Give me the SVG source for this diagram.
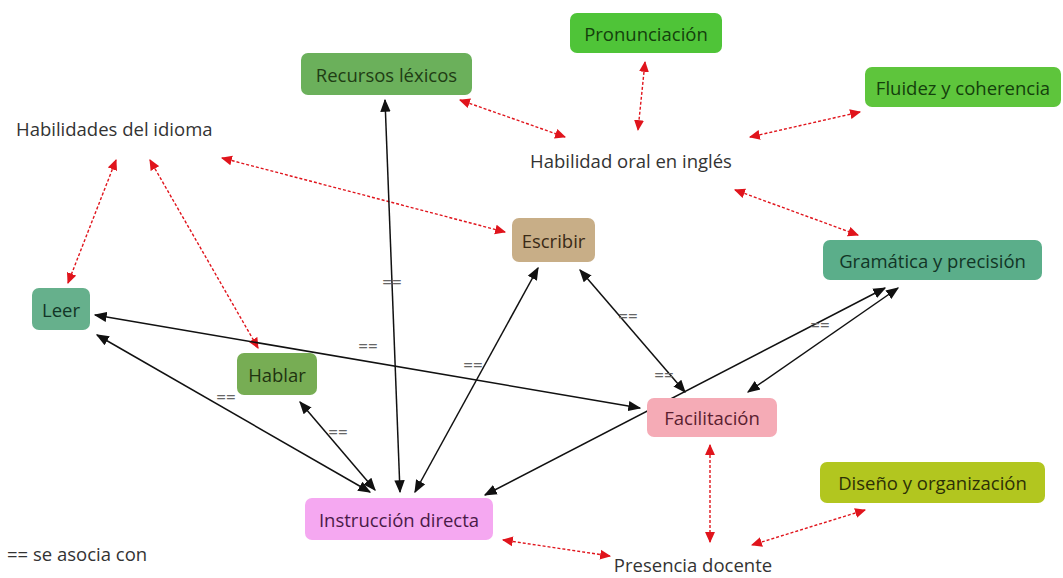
<svg xmlns="http://www.w3.org/2000/svg" width="1063" height="578" viewBox="0 0 1063 578">
  <defs>
    <marker id="arrRed" viewBox="0 0 10 10" refX="9" refY="5" markerWidth="11" markerHeight="11" orient="auto-start-reverse" markerUnits="userSpaceOnUse">
      <path d="M0,0.5 L10,5 L0,9.5 z" fill="#e0141c"/>
    </marker>
    <marker id="arrBlk" viewBox="0 0 10 10" refX="9" refY="5" markerWidth="13" markerHeight="13" orient="auto-start-reverse" markerUnits="userSpaceOnUse">
      <path d="M0,1 L10,5 L0,9 z" fill="#111"/>
    </marker>
  </defs>
  <style>
    text { font-family: "Open Sans", "Noto Sans", sans-serif; font-size: 18.5px; }
    .box { stroke: none; }
    .lbl { text-anchor: middle; dominant-baseline: central; }
    .plain { fill: #333; }
    .rel { stroke: #e0141c; stroke-width: 1.4; stroke-dasharray: 3 2; fill: none; marker-start: url(#arrRed); marker-end: url(#arrRed); }
    .assoc { stroke: #111; stroke-width: 1.5; fill: none; marker-start: url(#arrBlk); marker-end: url(#arrBlk); }
    .eq { fill: #666; font-size: 17px; text-anchor: middle; dominant-baseline: central; }
  </style>
  <rect width="1063" height="578" fill="#fff"/>

  <g id="connectors">
    <!-- dashed relations -->
    <line class="rel" x1="460" y1="100" x2="565" y2="137"/>
    <line class="rel" x1="645" y1="62" x2="638" y2="130"/>
    <line class="rel" x1="860" y1="112" x2="750" y2="137"/>
    <line class="rel" x1="735" y1="190" x2="858" y2="235"/>
    <line class="rel" x1="222" y1="158" x2="505" y2="232"/>
    <line class="rel" x1="116" y1="160" x2="68" y2="283"/>
    <line class="rel" x1="150" y1="160" x2="258" y2="348"/>
    <line class="rel" x1="710" y1="445" x2="710" y2="542"/>
    <line class="rel" x1="503" y1="540" x2="610" y2="556"/>
    <line class="rel" x1="865" y1="510" x2="752" y2="545"/>
    <!-- associations -->
    <line class="assoc" x1="385" y1="100" x2="400" y2="492"/>
    <line class="assoc" x1="538" y1="268" x2="415" y2="492"/>
    <line class="assoc" x1="97" y1="335" x2="370" y2="492"/>
    <line class="assoc" x1="300" y1="402" x2="375" y2="490"/>
    <line class="assoc" x1="95" y1="315" x2="640" y2="408"/>
    <line class="assoc" x1="580" y1="270" x2="685" y2="392"/>
    <line class="assoc" x1="885" y1="288" x2="485" y2="495"/>
    <line class="assoc" x1="898" y1="288" x2="748" y2="392"/>
    <text class="eq" x="392" y="281">==</text>
    <text class="eq" x="473" y="364">==</text>
    <text class="eq" x="226" y="396">==</text>
    <text class="eq" x="338" y="431">==</text>
    <text class="eq" x="368" y="345">==</text>
    <text class="eq" x="628" y="315">==</text>
    <text class="eq" x="664" y="374">==</text>
    <text class="eq" x="820" y="324">==</text>
  </g>

  <g id="recursos">
    <rect class="box" x="301" y="53" width="171" height="42" rx="7" fill="#6bb05b"/>
    <text class="lbl" x="386.5" y="74" fill="#1f3d14">Recursos léxicos</text>
  </g>
  <g id="pronunciacion">
    <rect class="box" x="570" y="13" width="152" height="40" rx="7" fill="#4fc438"/>
    <text class="lbl" x="646" y="33" fill="#14400c">Pronunciación</text>
  </g>
  <g id="fluidez">
    <rect class="box" x="865" y="67" width="196" height="40" rx="7" fill="#5ec53c"/>
    <text class="lbl" x="963" y="87" fill="#14400c">Fluidez y coherencia</text>
  </g>
  <g id="habilidades-idioma">
    <text class="plain" x="16" y="136">Habilidades del idioma</text>
  </g>
  <g id="habilidad-oral">
    <text class="plain lbl" x="631" y="160">Habilidad oral en inglés</text>
  </g>
  <g id="escribir">
    <rect class="box" x="512" y="218" width="83" height="44" rx="7" fill="#c8ae87"/>
    <text class="lbl" x="553.5" y="240" fill="#3a2a16">Escribir</text>
  </g>
  <g id="gramatica">
    <rect class="box" x="823" y="240" width="219" height="40" rx="7" fill="#5bae8a"/>
    <text class="lbl" x="932.5" y="260" fill="#123526">Gramática y precisión</text>
  </g>
  <g id="leer">
    <rect class="box" x="32" y="288" width="58" height="42" rx="7" fill="#66b08c"/>
    <text class="lbl" x="61" y="309" fill="#123526">Leer</text>
  </g>
  <g id="hablar">
    <rect class="box" x="237" y="353" width="80" height="42" rx="7" fill="#77ad54"/>
    <text class="lbl" x="277" y="374" fill="#1f3310">Hablar</text>
  </g>
  <g id="facilitacion">
    <rect class="box" x="647" y="398" width="130" height="39" rx="7" fill="#f5abb6"/>
    <text class="lbl" x="712" y="417.5" fill="#5a2030">Facilitación</text>
  </g>
  <g id="diseno">
    <rect class="box" x="820" y="462" width="225" height="41" rx="7" fill="#b2c61f"/>
    <text class="lbl" x="932.5" y="482.5" fill="#2c3006">Diseño y organización</text>
  </g>
  <g id="instruccion">
    <rect class="box" x="305" y="498" width="188" height="42" rx="7" fill="#f5a8f1"/>
    <text class="lbl" x="399" y="519" fill="#4a1a48">Instrucción directa</text>
  </g>
  <g id="presencia">
    <text class="plain lbl" x="693" y="564">Presencia docente</text>
  </g>
  <g id="legend">
    <text class="plain" x="7" y="561" font-size="17.5">== se asocia con</text>
  </g>
</svg>
